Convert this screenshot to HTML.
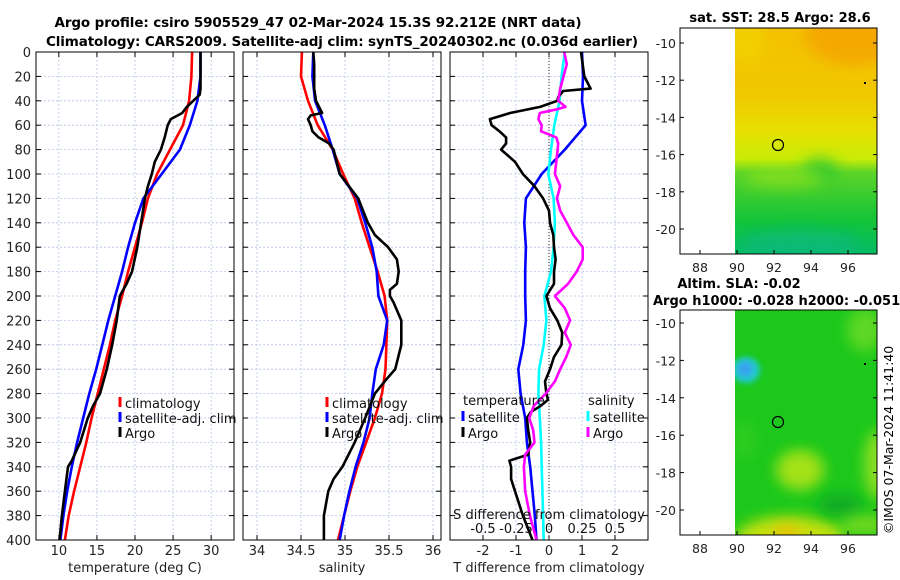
<!DOCTYPE html>
<html><head><meta charset="utf-8"><style>
html,body{margin:0;padding:0;background:#fff;}
svg{display:block;font-family:"DejaVu Sans","Liberation Sans",sans-serif;}
</style></head><body>
<svg id="fig" width="900" height="580" viewBox="0 0 900 580" xmlns="http://www.w3.org/2000/svg">
<defs>
<filter id="blur6" x="-50%" y="-50%" width="200%" height="200%"><feGaussianBlur stdDeviation="7"/></filter>
<filter id="blur3" x="-50%" y="-50%" width="200%" height="200%"><feGaussianBlur stdDeviation="3"/></filter>
<clipPath id="clipTop"><rect x="735" y="28" width="142" height="226"/></clipPath>
<clipPath id="clipBot"><rect x="735" y="310" width="142" height="225"/></clipPath>
<clipPath id="clipP1"><rect x="36" y="52" width="198" height="488"/></clipPath>
<clipPath id="clipP2"><rect x="243" y="52" width="198" height="488"/></clipPath>
<clipPath id="clipP3"><rect x="450" y="52" width="198" height="488"/></clipPath>
<linearGradient id="sstGrad" x1="0" y1="0" x2="0" y2="1">
<stop offset="0" stop-color="#f4c000"/><stop offset="0.3" stop-color="#f0c800"/>
<stop offset="0.45" stop-color="#e8e000"/><stop offset="0.58" stop-color="#c8ec08"/>
<stop offset="0.64" stop-color="#5cd428"/><stop offset="0.85" stop-color="#14c438"/>
<stop offset="1" stop-color="#04bc64"/></linearGradient>
</defs>
<text x="318" y="27" text-anchor="middle" font-size="13.5" font-weight="bold" textLength="527">Argo profile: csiro 5905529_47 02-Mar-2024 15.3S 92.212E (NRT data)</text>
<text x="342" y="46" text-anchor="middle" font-size="13.5" font-weight="bold" textLength="592">Climatology: CARS2009. Satellite-adj clim: synTS_20240302.nc (0.036d earlier)</text>

<g>
<text x="780" y="22" text-anchor="middle" font-size="13" font-weight="bold">sat. SST: 28.5 Argo: 28.6</text>
<g clip-path="url(#clipTop)">
<rect x="735" y="28" width="142" height="226" fill="url(#sstGrad)"/>
<ellipse cx="855" cy="35" rx="50" ry="30" fill="#f5a000" opacity="0.75" filter="url(#blur6)"/>
<ellipse cx="745" cy="40" rx="20" ry="25" fill="#f0d800" opacity="0.6" filter="url(#blur6)"/>
<ellipse cx="820" cy="170" rx="18" ry="12" fill="#2ec830" opacity="0.8" filter="url(#blur6)"/>
<ellipse cx="785" cy="178" rx="40" ry="10" fill="#a8e814" opacity="0.5" filter="url(#blur6)"/>
<ellipse cx="800" cy="245" rx="60" ry="15" fill="#10b880" opacity="0.7" filter="url(#blur6)"/>
</g>
<circle cx="778" cy="145" r="5.5" fill="none" stroke="#000" stroke-width="1.2"/>
<rect x="864" y="82" width="2" height="2" fill="#000"/>
<rect x="680" y="28" width="197" height="226" fill="none" stroke="#000" stroke-width="1"/>
</g>
<g>
<text x="739" y="288" text-anchor="middle" font-size="13" font-weight="bold">Altim. SLA: -0.02</text>
<text x="653" y="305" font-size="13" font-weight="bold">Argo h1000: -0.028 h2000: -0.051</text>
<g clip-path="url(#clipBot)">
<rect x="735" y="310" width="142" height="225" fill="#1cc81c"/>
<ellipse cx="746" cy="370" rx="14" ry="13" fill="#20c8d0" filter="url(#blur3)"/>
<ellipse cx="745" cy="369" rx="7" ry="7" fill="#3aa0f0" filter="url(#blur3)"/>
<ellipse cx="800" cy="470" rx="24" ry="20" fill="#c8e818" opacity="0.8" filter="url(#blur6)"/>
<ellipse cx="790" cy="540" rx="55" ry="24" fill="#d8e410" opacity="0.9" filter="url(#blur6)"/>
<ellipse cx="787" cy="534" rx="14" ry="9" fill="#f0b800" opacity="0.8" filter="url(#blur6)"/>
<ellipse cx="878" cy="465" rx="14" ry="35" fill="#a8e420" opacity="0.8" filter="url(#blur6)"/>
<ellipse cx="865" cy="330" rx="18" ry="22" fill="#70dc28" opacity="0.8" filter="url(#blur6)"/>
<ellipse cx="840" cy="505" rx="22" ry="10" fill="#10a828" filter="url(#blur6)"/>
<ellipse cx="865" cy="525" rx="25" ry="10" fill="#b0e420" opacity="0.6" filter="url(#blur6)"/>
<ellipse cx="745" cy="440" rx="10" ry="20" fill="#40d020" opacity="0.6" filter="url(#blur6)"/>
</g>
<circle cx="778" cy="422" r="5.5" fill="none" stroke="#000" stroke-width="1.2"/>
<rect x="864" y="363" width="2" height="2" fill="#000"/>
<rect x="680" y="310" width="197" height="225" fill="none" stroke="#000" stroke-width="1"/>
</g>
<text transform="translate(893,440) rotate(-90)" text-anchor="middle" font-size="12.5">©IMOS 07-Mar-2024 11:41:40</text>
<g id="dyn"></g>
</svg>
<script>
// ---------- data ----------
var climDepth = [0,20,40,60,80,100,120,140,160,180,200,220,240,260,280,300,320,340,360,380,400];
var tempClim  = [27.5,27.4,27.1,26.3,24.6,22.9,21.7,20.9,20.0,19.1,18.3,17.4,16.7,15.9,15.1,14.3,13.6,12.8,12.0,11.3,10.8];
var tempSat   = [28.6,28.6,28.2,27.2,25.9,23.5,21.1,20.0,19.1,18.3,17.4,16.5,15.7,14.9,14.0,13.2,12.4,11.7,11.1,10.6,10.2];
var salClim   = [34.51,34.50,34.58,34.69,34.86,34.98,35.11,35.19,35.28,35.37,35.45,35.48,35.47,35.46,35.42,35.34,35.24,35.14,35.06,34.99,34.92];
var salSat    = [34.64,34.63,34.66,34.77,34.86,34.94,35.14,35.23,35.31,35.36,35.38,35.48,35.44,35.35,35.31,35.28,35.21,35.12,35.05,34.99,34.94];
var tDiffSat  = [1.0,1.03,1.0,1.11,0.48,-0.22,-0.7,-0.75,-0.7,-0.72,-0.72,-0.7,-0.78,-0.93,-0.86,-0.72,-0.67,-0.57,-0.5,-0.43,-0.38];
var sDiffSat  = [0.12,0.095,0.08,0.04,0.015,-0.005,0.035,0.045,0.035,0.015,-0.035,-0.02,-0.04,-0.075,-0.08,-0.07,-0.06,-0.055,-0.05,-0.045,-0.04];

var argoTDepth = [0,30,35,45,50,55,60,70,80,90,100,110,120,140,160,180,190,200,220,240,260,280,290,300,320,335,340,360,380,400];
var tempArgo   = [28.6,28.6,28.5,26.8,26.2,24.7,24.3,23.9,23.4,22.6,22.2,21.7,21.3,20.8,20.3,19.6,18.9,18.0,17.6,17.0,16.3,15.4,14.5,13.8,12.8,11.7,11.2,10.8,10.4,10.1];
var argoSDepth = [0,10,30,40,50,52,55,60,65,70,75,80,100,120,140,150,160,170,180,190,195,200,205,220,240,260,270,280,300,320,340,350,360,380,400];
var salArgo    = [34.64,34.65,34.65,34.67,34.74,34.61,34.58,34.61,34.63,34.70,34.82,34.87,34.94,35.15,35.26,35.34,35.49,35.59,35.61,35.59,35.51,35.51,35.55,35.64,35.64,35.57,35.45,35.34,35.23,35.11,34.97,34.87,34.81,34.76,34.76];

var tDiffDepth = [0,20,30,32,37,40,45,50,55,60,65,70,75,80,90,100,110,120,130,140,150,160,170,180,190,200,210,220,230,240,250,260,270,280,285,290,295,300,310,320,330,335,340,350,360,380,400];
var tDiffArgo  = [0.97,1.07,1.26,0.43,0.28,0.25,-0.27,-1.18,-1.79,-1.74,-1.5,-1.3,-1.3,-1.45,-1.03,-0.79,-0.44,-0.18,-0.0,0.03,0.13,0.15,0.2,0.15,0.15,-0.08,0.03,0.25,0.4,0.38,0.15,0.03,-0.12,-0.08,-0.03,-0.25,-0.55,-0.67,-0.63,-0.57,-0.63,-1.2,-1.15,-1.15,-1.03,-0.79,-0.5];
var sDiffDepth = [0,10,20,30,40,45,47,50,55,60,65,70,75,80,90,100,110,120,130,140,150,160,170,180,190,200,210,220,230,240,250,260,270,280,290,300,310,320,330,340,360,380,400];
var sDiffArgo  = [0.115,0.135,0.11,0.085,0.07,0.125,0.06,-0.07,-0.08,-0.055,-0.06,0.055,0.07,0.065,0.055,0.045,0.085,0.06,0.085,0.135,0.185,0.255,0.255,0.21,0.145,0.045,0.12,0.16,0.12,0.165,0.13,0.085,0.045,-0.025,-0.115,-0.15,-0.12,-0.11,-0.18,-0.19,-0.18,-0.145,-0.095];

var depthTicks = [0,20,40,60,80,100,120,140,160,180,200,220,240,260,280,300,320,340,360,380,400];
var tempTicks = [10,15,20,25,30];
var salTicks = [34,34.5,35,35.5,36];
var tdTicks = [-2,-1,0,1,2];
var sdTicks = [-0.5,-0.25,0,0.25,0.5];
var lonTicks = [88,90,92,94,96];
var latTicks = [-10,-12,-14,-16,-18,-20];

// ---------- helpers ----------
var NS = "http://www.w3.org/2000/svg";
var root = document.getElementById('dyn');
function mk(tag, attrs, parent){var e=document.createElementNS(NS,tag);for(var k in attrs)e.setAttribute(k,attrs[k]);(parent||root).appendChild(e);return e;}
var TOP=52, BOT=540;
function yD(d){return TOP + d*(BOT-TOP)/400;}
function lin(d0,d1,r0,r1){return function(v){return r0+(v-d0)*(r1-r0)/(d1-d0);};}
var panels = [
 {x0:36,x1:234,clip:'clipP1',name:'temperature-panel',sc:lin(7,33,36,234)},
 {x0:243,x1:441,clip:'clipP2',name:'salinity-panel',sc:lin(33.8409,36.0909,243,441)},
 {x0:450,x1:648,clip:'clipP3',name:'difference-panel',sc:lin(-3,3,450,648)}
];
var sdScale = lin(-0.75,0.75,450,648);

function drawPanel(p, xticks, xlab, labelLeft){
  var g = mk('g',{});
  
  
  depthTicks.forEach(function(d){
    var gl = mk('line',{x1:p.x0,x2:p.x1,y1:yD(d),y2:yD(d),stroke:'#b8c4e8','stroke-width':0.8,'stroke-dasharray':'2,2'},g);
    
    
    mk('line',{x1:p.x0,x2:p.x0+5,y1:yD(d),y2:yD(d),stroke:'#000','stroke-width':1},g);
    mk('line',{x1:p.x1-5,x2:p.x1,y1:yD(d),y2:yD(d),stroke:'#000','stroke-width':1},g);
    if(labelLeft){
      var t = mk('text',{x:31,y:yD(d)+5,'text-anchor':'end','font-size':13,fill:'#222'},g);
      t.textContent = d;
      
      
    }
  });
  xticks.forEach(function(v){
    var x = p.sc(v);
    var gl = mk('line',{x1:x,x2:x,y1:TOP,y2:BOT,stroke:'#b8c4e8','stroke-width':0.8,'stroke-dasharray':'2,2'},g);
    
    
    mk('line',{x1:x,x2:x,y1:TOP,y2:TOP+5,stroke:'#000'},g);
    mk('line',{x1:x,x2:x,y1:BOT-5,y2:BOT,stroke:'#000'},g);
    var t = mk('text',{x:x,y:555,'text-anchor':'middle','font-size':13,fill:'#222'},g);
    t.textContent = v;
    
    
  });
  var xt = mk('text',{x:(p.x0+p.x1)/2,y:572,'text-anchor':'middle','font-size':13,fill:'#222'},g);
  xt.textContent = xlab;
  
  
  return g;
}
var parentClip;
function line(parent, xs, ds, sc, color, name){
  var pts = xs.map(function(v,i){return sc(v).toFixed(1)+','+yD(ds[i]).toFixed(1);}).join(' ');
  var pl = mk('polyline',{points:pts,fill:'none',stroke:color,'stroke-width':2.6,'stroke-linejoin':'round','clip-path':'url(#'+parentClip+')'},parent);
  
  
}
function frame(p,g){var r=mk('rect',{x:p.x0,y:TOP,width:p.x1-p.x0,height:BOT-TOP,fill:'none',stroke:'#000','stroke-width':1},g);
  
  }
function legendEntry(g,x,y,color,label){
  if(color){mk('line',{x1:x,x2:x,y1:y-11,y2:y-1,stroke:color,'stroke-width':3},g);}
  var t=mk('text',{x:x+5,y:y,'font-size':13,fill:'#111'},g);
  t.textContent=label;
  
  
}

var g1 = drawPanel(panels[0], tempTicks, 'temperature (deg C)', true);
parentClip='clipP1';
line(g1,tempClim,climDepth,panels[0].sc,'#f00','temp-climatology-line');
line(g1,tempSat,climDepth,panels[0].sc,'#00f','temp-satellite-line');
line(g1,tempArgo,argoTDepth,panels[0].sc,'#000','temp-argo-line');
frame(panels[0],g1);
legendEntry(g1,120,408,'#f00','climatology');
legendEntry(g1,120,423,'#00f','satellite-adj. clim');
legendEntry(g1,120,438,'#000','Argo');

var g2 = drawPanel(panels[1], salTicks, 'salinity', false);
parentClip='clipP2';
line(g2,salClim,climDepth,panels[1].sc,'#f00','sal-climatology-line');
line(g2,salSat,climDepth,panels[1].sc,'#00f','sal-satellite-line');
line(g2,salArgo,argoSDepth,panels[1].sc,'#000','sal-argo-line');
frame(panels[1],g2);
legendEntry(g2,327,408,'#f00','climatology');
legendEntry(g2,327,423,'#00f','satellite-adj. clim');
legendEntry(g2,327,438,'#000','Argo');

var g3 = drawPanel(panels[2], tdTicks, 'T difference from climatology', false);
var z = mk('line',{x1:panels[2].sc(0),x2:panels[2].sc(0),y1:TOP,y2:BOT,stroke:'#333','stroke-width':1,'stroke-dasharray':'1,2'},g3);


parentClip='clipP3';
line(g3,tDiffSat,climDepth,panels[2].sc,'#00f','tdiff-satellite-line');
line(g3,sDiffSat,climDepth,sdScale,'#00ffff','sdiff-satellite-line');
line(g3,tDiffArgo,tDiffDepth,panels[2].sc,'#000','tdiff-argo-line');
line(g3,sDiffArgo,sDiffDepth,sdScale,'#ff00ff','sdiff-argo-line');
frame(panels[2],g3);
legendEntry(g3,458,405,null,'temperature');
legendEntry(g3,463,422,'#00f','satellite');
legendEntry(g3,463,438,'#000','Argo');
legendEntry(g3,583,405,null,'salinity');
legendEntry(g3,588,422,'#00ffff','satellite');
legendEntry(g3,588,438,'#ff00ff','Argo');
var st = mk('text',{x:549,y:519,'text-anchor':'middle','font-size':13,fill:'#111'},g3);
st.textContent='S difference from climatology';


sdTicks.forEach(function(v){
  var t=mk('text',{x:sdScale(v),y:533,'text-anchor':'middle','font-size':13,fill:'#111'},g3);
  t.textContent=v;
  
  
});

var lonSc = lin(88,96,700,848);
function mapAxes(y0,y1,latSc,name){
  var g=mk('g',{});
  
  
  lonTicks.forEach(function(v){
    var x=lonSc(v);
    mk('line',{x1:x,x2:x,y1:y1-4,y2:y1,stroke:'#000'},g);
    var t=mk('text',{x:x,y:y1+18,'text-anchor':'middle','font-size':12.5,fill:'#222'},g);
    t.textContent=v;
    
    
  });
  latTicks.forEach(function(v){
    var y=latSc(v);
    mk('line',{x1:680,x2:684,y1:y,y2:y,stroke:'#000'},g);
    mk('line',{x1:873,x2:877,y1:y,y2:y,stroke:'#000'},g);
    var t=mk('text',{x:676,y:y+5,'text-anchor':'end','font-size':12.5,fill:'#222'},g);
    t.textContent=v;
    
    
  });
}
mapAxes(28,254,lin(-10,-20,43,229),'sst-map-axes');
mapAxes(310,535,lin(-10,-20,323,510),'sla-map-axes');
</script>
</body></html>
